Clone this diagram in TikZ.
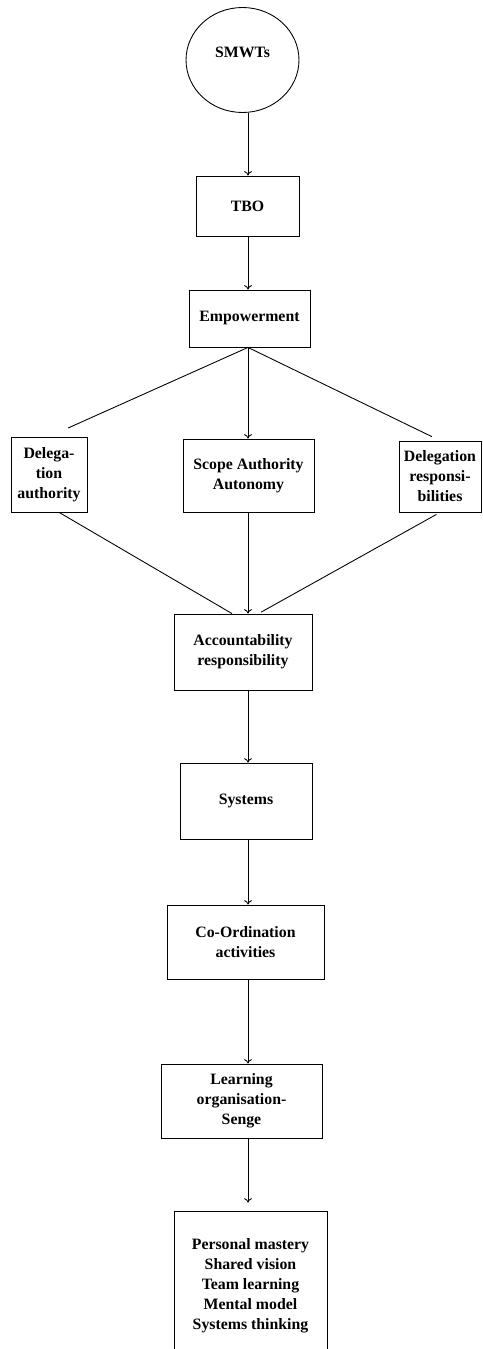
\documentclass[tikz,border=0pt]{standalone}
\usepackage{fontspec}
\setmainfont{Liberation Serif}
\usetikzlibrary{shapes.geometric,arrows.meta}

\begin{document}
\begin{tikzpicture}[x=0.02cm,y=-0.02cm,>={To[width=4.5pt,length=2.5pt]},
    stage/.style={draw,rectangle,align=center,inner sep=1pt,line width=0.5pt,
        font=\fontsize{9}{11.4}\selectfont\bfseries},
    link/.style={line width=0.5pt}]
    % Page frame (last box runs off the bottom)
    \path[use as bounding box,clip] (0,0) rectangle (483,1349);
    \coordinate (axis) at (248,0);

    % Top of the chain
    \node[stage,ellipse,minimum width=2.26cm,minimum height=2.1cm,text depth=0.32cm] (smwt) at (242.5,60) {SMWTs};
    \node[stage,minimum width=2.06cm,minimum height=1.2cm] (tbo) at (247.5,206) {TBO};
    \node[stage,minimum width=2.42cm,minimum height=1.14cm] (emp) at (249.5,318.5) {Empowerment};

    % Three branches
    \node[stage,minimum width=1.52cm,minimum height=1.5cm] (dauth) at (49,474.5) {Delega-\\tion\\authority};
    \node[stage,minimum width=2.62cm,minimum height=1.46cm] (scope) at (248.5,475.5) {Scope Authority\\Autonomy};
    \node[stage,minimum width=1.64cm,minimum height=1.42cm] (dresp) at (440,476.5) {Delegation\\responsi-\\bilities};

    % Lower chain
    \node[stage,minimum width=2.76cm,minimum height=1.52cm] (acc) at (243,652) {Accountability\\responsibility};
    \node[stage,minimum width=2.64cm,minimum height=1.52cm] (sys) at (246,801) {Systems};
    \node[stage,minimum width=3.14cm,minimum height=1.48cm] (coord) at (245.5,942) {Co-Ordination\\activities};
    \node[stage,minimum width=3.22cm,minimum height=1.48cm] (learn) at (241.5,1101) {Learning\\organisation-\\Senge};
    \node[stage,minimum width=3.06cm,minimum height=2.98cm] (disc) at (250.5,1285.5)
        {Personal mastery\\Shared vision\\Team learning\\Mental model\\Systems thinking};

    % Arrows down the middle
    \draw[->,link] (smwt.south -| axis) -- (tbo.north -| axis);
    \draw[->,link] (tbo.south -| axis) -- (emp.north -| axis);
    \draw[->,link] (emp.south -| axis) -- (scope.north -| axis);
    \draw[->,link] (scope.south -| axis) -- (acc.north -| axis);
    \draw[->,link] (acc.south -| axis) -- (sys.north -| axis);
    \draw[->,link] (sys.south -| axis) -- (coord.north -| axis);
    \draw[->,link] (coord.south -| axis) -- (learn.north -| axis);
    \draw[->,link,shorten >=0.16cm] (learn.south -| axis) -- (disc.north -| axis);

    % Side branches
    \draw[link,shorten >=0.42cm] (emp.south -| axis) -- (dauth.north);
    \draw[link,shorten >=0.18cm] (emp.south -| axis) -- (dresp.north);
    \draw[link] (dauth.-75) -- (acc.106);
    \draw[link,shorten <=0.08cm,shorten >=0.06cm] (dresp.south) -- (acc.68);
\end{tikzpicture}
\end{document}
